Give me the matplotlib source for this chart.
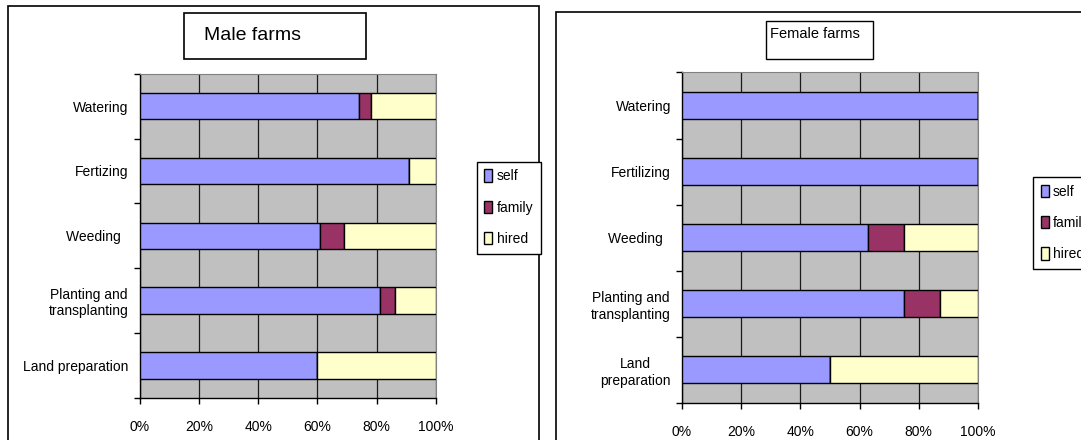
import matplotlib
matplotlib.use('Agg')
import matplotlib.pyplot as plt
from matplotlib.patches import Rectangle
from matplotlib.ticker import PercentFormatter

plt.rcParams['font.family'] = ['Liberation Sans', 'DejaVu Sans']

# data, bottom to top in the chart
series = ['self', 'family', 'hired']
colors = ['#9999FF', '#993366', '#FFFFCC']

male_tasks = ['Land preparation', 'Planting and\ntransplanting', 'Weeding  ', 'Fertizing', 'Watering']
male_self = [60, 81, 61, 91, 74]
male_family = [0, 5, 8, 0, 4]
male_hired = [40, 14, 31, 9, 22]

female_tasks = ['Land\npreparation', 'Planting and\ntransplanting', 'Weeding  ', 'Fertilizing', 'Watering']
female_self = [50, 75, 63, 100, 100]
female_family = [0, 12, 12, 0, 0]
female_hired = [50, 13, 25, 0, 0]

W, H = 1081, 440
fig = plt.figure(figsize=(W / 100, H / 100), dpi=100)


def fx(px):
    return px / W


def fy(py):
    return 1 - py / H


def panel(rect, tasks, vals):
    ax = fig.add_axes(rect)
    ax.set_facecolor('#C0C0C0')
    pos = [i + 0.5 for i in range(len(tasks))]
    left = [0] * len(tasks)
    for name, col, v in zip(series, colors, vals):
        ax.barh(pos, [x / 100 for x in v], left=left, height=0.41, color=col,
                edgecolor='black', linewidth=1, label=name, zorder=3)
        left = [a + b / 100 for a, b in zip(left, v)]
    ax.set_xlim(0, 1)
    ax.set_ylim(0, len(tasks))
    ax.set_xticks([0, 0.2, 0.4, 0.6, 0.8, 1.0])
    ax.xaxis.set_major_formatter(PercentFormatter(1.0, decimals=0))
    ax.set_yticks(pos)
    ax.set_yticklabels(tasks, fontsize=10, multialignment='center')
    ax.set_yticks(range(len(tasks) + 1), minor=True)
    ax.tick_params(axis='y', which='major', length=0, pad=8)
    ax.tick_params(axis='y', which='minor', length=4, width=1, direction='out')
    ax.tick_params(axis='x', length=4, width=1, direction='out', labelsize=10, pad=12)
    ax.xaxis.grid(True, color='#1a1a1a', linewidth=0.9, zorder=1)
    ax.set_axisbelow(True)
    for s in ['top', 'right']:
        ax.spines[s].set_color('#808080')
    for s in ['left', 'bottom']:
        ax.spines[s].set_color('black')
        ax.spines[s].set_linewidth(1)
    return ax


# male panel
ax1 = panel([fx(139.6), fy(398), fx(436 - 139.6), (398 - 73.7) / H], male_tasks,
            [male_self, male_family, male_hired])
# female panel
ax2 = panel([fx(682), fy(403), fx(978 - 682), (403 - 72.4) / H], female_tasks,
            [female_self, female_family, female_hired])

# outer frames of the two chart objects
fig.patches.append(Rectangle((fx(7.6), fy(445)), fx(539 - 7.6), (445 - 6) / H,
                             transform=fig.transFigure, fill=False, edgecolor='black', linewidth=1.2))
fig.patches.append(Rectangle((fx(556), fy(445)), fx(1090 - 556), (445 - 12) / H,
                             transform=fig.transFigure, fill=False, edgecolor='black', linewidth=1.2))

# title boxes
fig.patches.append(Rectangle((fx(184), fy(59.5)), fx(366 - 184), (59.5 - 12.8) / H,
                             transform=fig.transFigure, fill=False, edgecolor='black', linewidth=1.2))
fig.text(fx(204), fy(36), 'Male farms', fontsize=14, va='center', ha='left')
fig.patches.append(Rectangle((fx(765.5), fy(59)), fx(873 - 765.5), (59 - 20.7) / H,
                             transform=fig.transFigure, fill=False, edgecolor='black', linewidth=1))
fig.text(fx(770), fy(34), 'Female farms', fontsize=10.5, va='center', ha='left')

# legends (the right one runs past the image edge, as in the original)
for ax, x0, y0 in ((ax1, 476.5, 161.6), (ax2, 1033, 177)):
    h, l = ax.get_legend_handles_labels()
    fig.legend(h, l, loc='upper left', bbox_to_anchor=(fx(x0), fy(y0)),
               bbox_transform=fig.transFigure, fontsize=10, frameon=True,
               fancybox=False, edgecolor='black', framealpha=1,
               handlelength=0.6, handleheight=1.0, handletextpad=0.3,
               labelspacing=1.25, borderpad=0.55, borderaxespad=0)

fig.savefig('out.png', dpi=100)
